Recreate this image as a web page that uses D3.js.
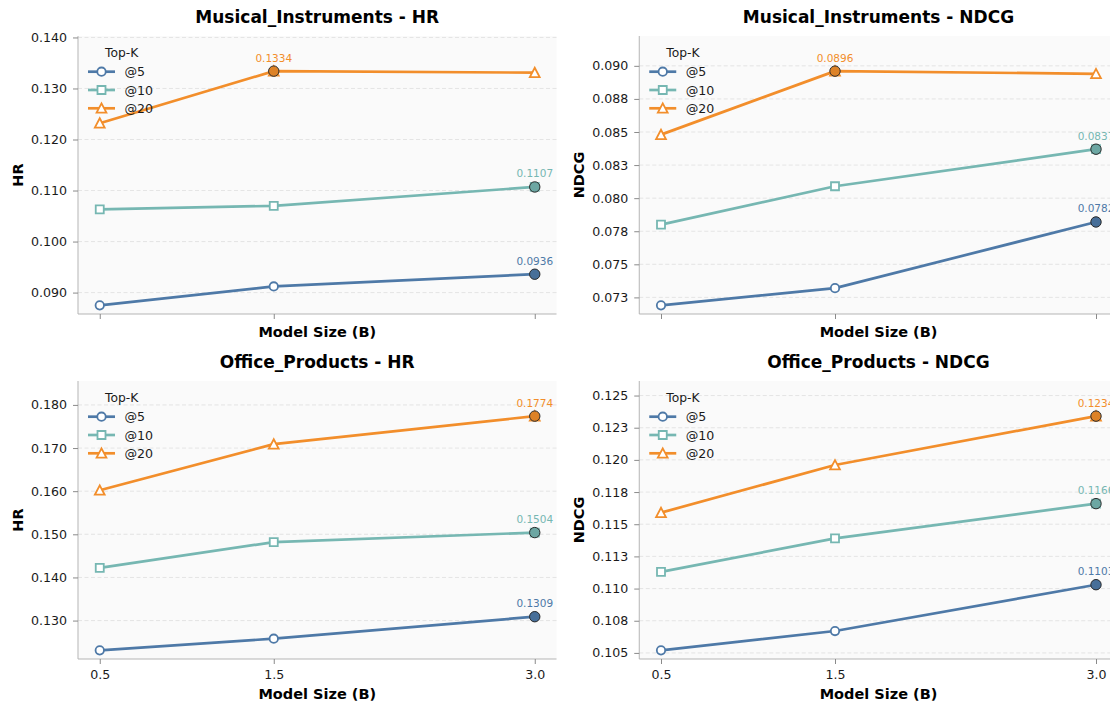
<!DOCTYPE html>
<html>
<head>
<meta charset="utf-8">
<script src="https://cdn.jsdelivr.net/npm/d3@7"></script>
<style>
  body { margin: 0; background: #ffffff; }
  svg { display: block; font-family: "DejaVu Sans", sans-serif; }
</style>
</head>
<body>
<svg id="chart" width="1110" height="705"></svg>
<script>
// ---- data -------------------------------------------------------------
const modelSizes = [0.5, 1.5, 3.0];
const sizeTickLabels = ["0.5", "1.5", "3.0"];
const topKLabels = ["@5", "@10", "@20"];
const seriesColors = ["#4e79a7", "#76b7b2", "#f28e2b"];
const markerShapes = ["circle", "square", "triangle"];

// one row per Top-K (@5, @10, @20), one value per model size
const musicalHR = [
  [0.0875, 0.0912, 0.0936],
  [0.1063, 0.1070, 0.1107],
  [0.1232, 0.1334, 0.1331]
];
const musicalNDCG = [
  [0.0719, 0.0732, 0.0782],
  [0.0780, 0.0809, 0.0837],
  [0.0848, 0.0896, 0.0894]
];
const officeHR = [
  [0.1231, 0.1258, 0.1309],
  [0.1422, 0.1482, 0.1504],
  [0.1602, 0.1709, 0.1774]
];
const officeNDCG = [
  [0.1052, 0.1067, 0.1103],
  [0.1113, 0.1139, 0.1166],
  [0.1159, 0.1196, 0.1234]
];

const musicalHRTicks = [0.090, 0.100, 0.110, 0.120, 0.130, 0.140];
const musicalHRTickLabels = ["0.090", "0.100", "0.110", "0.120", "0.130", "0.140"];
const musicalNDCGTicks = [0.0725, 0.075, 0.0775, 0.080, 0.0825, 0.085, 0.0875, 0.090];
const musicalNDCGTickLabels = ["0.073", "0.075", "0.078", "0.080", "0.083", "0.085", "0.088", "0.090"];
const officeHRTicks = [0.130, 0.140, 0.150, 0.160, 0.170, 0.180];
const officeHRTickLabels = ["0.130", "0.140", "0.150", "0.160", "0.170", "0.180"];
const officeNDCGTicks = [0.105, 0.1075, 0.110, 0.1125, 0.115, 0.1175, 0.120, 0.1225, 0.125];
const officeNDCGTickLabels = ["0.105", "0.108", "0.110", "0.113", "0.115", "0.118", "0.120", "0.123", "0.125"];

const panels = [
  { title: "Musical_Instruments - HR",   ylabel: "HR",   values: musicalHR,   ticks: musicalHRTicks,   tickLabels: musicalHRTickLabels,   col: 0, row: 0 },
  { title: "Musical_Instruments - NDCG", ylabel: "NDCG", values: musicalNDCG, ticks: musicalNDCGTicks, tickLabels: musicalNDCGTickLabels, col: 1, row: 0 },
  { title: "Office_Products - HR",       ylabel: "HR",   values: officeHR,    ticks: officeHRTicks,    tickLabels: officeHRTickLabels,    col: 0, row: 1 },
  { title: "Office_Products - NDCG",     ylabel: "NDCG", values: officeNDCG,  ticks: officeNDCGTicks,  tickLabels: officeNDCGTickLabels,  col: 1, row: 1 }
];

// ---- layout -----------------------------------------------------------
const colLeft = [78, 639.25];
const rowTop = [36, 381];
const plotW = 478.5;
const plotH = 278;

const svg = d3.select("#chart");

function markerPath(shape) {
  if (shape === "circle") return d3.symbol(d3.symbolCircle, Math.PI * 4.2 * 4.2)();
  if (shape === "square") return "M-4,-4H4V4H-4Z";
  return "M0,-4.9L4.9,4.4L-4.9,4.4Z";
}

panels.forEach(p => {
  const g = svg.append("g")
    .attr("transform", `translate(${colLeft[p.col]},${rowTop[p.row]})`);

  const xPad = (d3.max(modelSizes) - d3.min(modelSizes)) * 0.05;
  const x = d3.scaleLinear()
    .domain([d3.min(modelSizes) - xPad, d3.max(modelSizes) + xPad])
    .range([0, plotW]);

  const all = p.values.flat();
  const lo = d3.min(all), hi = d3.max(all), span = hi - lo;
  const y = d3.scaleLinear()
    .domain([lo - span * 0.037, hi + span * 0.15])
    .range([plotH, 0]);

  // plot background
  g.append("rect")
    .attr("width", plotW).attr("height", plotH)
    .attr("fill", "#fafafa");

  // horizontal dashed grid
  g.append("g").selectAll("line")
    .data(p.ticks)
    .join("line")
    .attr("x1", 0).attr("x2", plotW)
    .attr("y1", d => y(d)).attr("y2", d => y(d))
    .attr("stroke", "#dedede")
    .attr("stroke-width", 0.8)
    .attr("stroke-dasharray", "4,2.5");

  // y axis
  const yAxis = d3.axisLeft(y)
    .tickValues(p.ticks)
    .tickFormat((d, i) => p.tickLabels[i])
    .tickSize(5)
    .tickPadding(6);
  const ya = g.append("g").call(yAxis);
  ya.select(".domain").attr("stroke", "#b5b5b5").attr("d", `M0,0V${plotH}`);
  ya.selectAll(".tick line").attr("stroke", "#8a8a8a");
  ya.selectAll(".tick text")
    .attr("fill", "#1a1a1a")
    .style("font-size", "12.6px")
    .style("font-family", "DejaVu Sans, sans-serif");

  // x axis
  const xAxis = d3.axisBottom(x)
    .tickValues(modelSizes)
    .tickFormat((d, i) => p.row === 1 ? sizeTickLabels[i] : "")
    .tickSize(5)
    .tickPadding(6);
  const xa = g.append("g").attr("transform", `translate(0,${plotH})`).call(xAxis);
  xa.select(".domain").attr("stroke", "#b5b5b5").attr("d", `M0,0H${plotW}`);
  xa.selectAll(".tick line").attr("stroke", "#8a8a8a");
  xa.selectAll(".tick text")
    .attr("fill", "#1a1a1a")
    .style("font-size", "12.6px")
    .style("font-family", "DejaVu Sans, sans-serif");

  // series lines with open markers
  const line = d3.line().x((d, i) => x(modelSizes[i])).y(d => y(d));
  p.values.forEach((vals, k) => {
    g.append("path")
      .datum(vals)
      .attr("d", line)
      .attr("fill", "none")
      .attr("stroke", seriesColors[k])
      .attr("stroke-width", 2.7)
      .attr("stroke-linejoin", "round");

    g.append("g").selectAll("path")
      .data(vals)
      .join("path")
      .attr("transform", (d, i) => `translate(${x(modelSizes[i])},${y(d)})`)
      .attr("d", markerPath(markerShapes[k]))
      .attr("fill", "#ffffff")
      .attr("stroke", seriesColors[k])
      .attr("stroke-width", 1.8);
  });

  // best value of each series: filled dot plus value label
  p.values.forEach((vals, k) => {
    const bi = d3.maxIndex(vals);
    const bx = x(modelSizes[bi]), by = y(vals[bi]);
    g.append("circle")
      .attr("cx", bx).attr("cy", by).attr("r", 5.2)
      .attr("fill", d3.color(seriesColors[k]).darker(0.25))
      .attr("stroke", "#2b2b2b")
      .attr("stroke-width", 1);
    g.append("text")
      .attr("x", bx).attr("y", by - 9.5)
      .attr("text-anchor", "middle")
      .attr("fill", seriesColors[k])
      .style("font-size", "10.5px")
      .text(vals[bi].toFixed(4));
  });

  // legend
  const lg = g.append("g");
  lg.append("text")
    .attr("x", 43.7).attr("y", 21.3)
    .attr("text-anchor", "middle")
    .attr("fill", "#1a1a1a")
    .style("font-size", "12.3px")
    .text("Top-K");
  topKLabels.forEach((lab, k) => {
    const cy = 35.7 + k * 18.3;
    lg.append("line")
      .attr("x1", 10).attr("x2", 37)
      .attr("y1", cy).attr("y2", cy)
      .attr("stroke", seriesColors[k])
      .attr("stroke-width", 2.7);
    lg.append("path")
      .attr("transform", `translate(23.5,${cy})`)
      .attr("d", markerPath(markerShapes[k]))
      .attr("fill", "#ffffff")
      .attr("stroke", seriesColors[k])
      .attr("stroke-width", 1.8);
    lg.append("text")
      .attr("x", 46.5).attr("y", cy + 4.5)
      .attr("fill", "#1a1a1a")
      .style("font-size", "12.6px")
      .text(lab);
  });

  // title
  g.append("text")
    .attr("x", plotW / 2).attr("y", -13.5)
    .attr("text-anchor", "middle")
    .attr("fill", "#000")
    .style("font-size", "17px")
    .style("font-weight", "bold")
    .text(p.title);

  // axis labels
  g.append("text")
    .attr("x", plotW / 2)
    .attr("y", p.row === 1 ? plotH + 39.5 : plotH + 22.5)
    .attr("text-anchor", "middle")
    .attr("fill", "#000")
    .style("font-size", "14.5px")
    .style("font-weight", "bold")
    .text("Model Size (B)");
  g.append("text")
    .attr("transform", `translate(-55,${plotH / 2}) rotate(-90)`)
    .attr("text-anchor", "middle")
    .attr("fill", "#000")
    .style("font-size", "14.5px")
    .style("font-weight", "bold")
    .text(p.ylabel);
});
</script>
</body>
</html>
